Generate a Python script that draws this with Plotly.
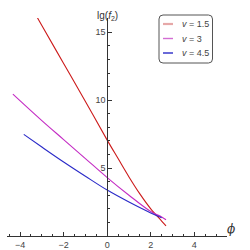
import plotly.graph_objects as go

# ---- data ----
nu_labels = ["v = 1.5", "v = 3", "v = 4.5"]
legend_text = ["<i>v</i> = 1.5", "<i>v</i> = 3", "<i>v</i> = 4.5"]

phi_red = [-3.5, -3.0, -2.0, -1.0, 0.0, 0.5, 1.0, 1.5, 2.0, 2.5, 2.7]
lg_red = [16.9, 15.5, 12.7, 9.9, 7.06, 5.7, 4.35, 3.1, 2.0, 1.1, 0.74]

phi_mag = [-4.33, -3.0, -2.0, -1.0, 0.0, 1.0, 2.0, 2.5, 2.7]
lg_mag = [10.45, 8.5, 7.1, 5.7, 4.3, 3.0, 1.8, 1.4, 1.2]

phi_blue = [-3.83, -3.0, -2.0, -1.0, 0.0, 1.0, 2.0, 2.5]
lg_blue = [7.48, 6.55, 5.45, 4.4, 3.38, 2.5, 1.7, 1.35]

x_ticks = [-4, -2, 0, 2, 4]
y_ticks = [5, 10, 15]

colors = ["#cc1a1a", "#c42cc4", "#2a2ac8"]
legend_colors = ["rgba(214,110,110,0.6)", "rgba(196,60,196,0.75)", "#2a2ac8"]
legend_widths = [2.2, 1.4, 1.4]

x_range = [-4.6, 5.5]
y_range = [0, 16.05]

fig = go.Figure()
for xs, ys, c, n in zip([phi_red, phi_mag, phi_blue], [lg_red, lg_mag, lg_blue], colors, nu_labels):
    fig.add_trace(go.Scatter(x=xs, y=ys, mode="lines", name=n,
                             line=dict(color=c, width=1.1, shape="spline"),
                             showlegend=False, hoverinfo="skip"))

y_pos = (0 - x_range[0]) / (x_range[1] - x_range[0])
axis_col = "#333333"
tick_font = dict(family="Liberation Sans, Arial, sans-serif", size=9, color="#444444")

fig.update_layout(
    width=250, height=250,
    margin=dict(l=7, r=23, t=18, b=14, autoexpand=False),
    paper_bgcolor="white", plot_bgcolor="white",
    showlegend=False,
    xaxis=dict(range=x_range, showgrid=False, zeroline=False, showline=True, automargin=False,
               linecolor=axis_col, linewidth=1, ticks="inside", ticklen=4,
               tickcolor=axis_col, tickvals=x_ticks, tickfont=tick_font,
               minor=dict(dtick=0.5, ticks="inside", ticklen=2, tickcolor=axis_col)),
    yaxis=dict(range=y_range, showgrid=False, zeroline=False, showline=True, automargin=False,
               linecolor=axis_col, linewidth=1, ticks="inside", ticklen=4,
               tickcolor=axis_col, tickvals=y_ticks, tickfont=tick_font,
               anchor="free", position=y_pos, side="left",
               minor=dict(dtick=1, ticks="inside", ticklen=2, tickcolor=axis_col)),
)

# axis labels
fig.add_annotation(text="lg(<i>f</i><sub>2</sub>)", xref="paper", yref="paper",
                   x=y_pos, y=1.045, showarrow=False,
                   font=dict(family="Liberation Sans, Arial, sans-serif", size=10, color="#333333"))
fig.add_annotation(text="<i>ϕ</i>", xref="paper", yref="paper",
                   x=1.045, y=-0.01, showarrow=False,
                   font=dict(family="DejaVu Serif, serif", size=12, color="#333333"))

# custom legend box (rounded)
def px2paper(px, py):
    return (px - 7) / 220.0, (236 - py) / 218.0

x0, y0 = px2paper(159, 15)
x1, y1 = px2paper(212.5, 63)
rx = 4 / 220.0
ry = 4 / 218.0
path = (f"M {x0+rx},{y0} L {x1-rx},{y0} Q {x1},{y0} {x1},{y0-ry} "
        f"L {x1},{y1+ry} Q {x1},{y1} {x1-rx},{y1} L {x0+rx},{y1} "
        f"Q {x0},{y1} {x0},{y1+ry} L {x0},{y0-ry} Q {x0},{y0} {x0+rx},{y0} Z")
fig.add_shape(type="path", path=path, xref="paper", yref="paper",
              line=dict(color="#555555", width=1), fillcolor="white")

rows_py = [24, 38.5, 53]
for py, c, w, t in zip(rows_py, legend_colors, legend_widths, legend_text):
    lx0, ly = px2paper(163, py)
    lx1, _ = px2paper(173, py)
    fig.add_shape(type="line", xref="paper", yref="paper", x0=lx0, x1=lx1, y0=ly, y1=ly,
                  line=dict(color=c, width=w))
    tx, _ = px2paper(180, py)
    fig.add_annotation(text=t, xref="paper", yref="paper", x=tx, y=ly, xanchor="left",
                       yanchor="middle", showarrow=False,
                       font=dict(family="Liberation Sans, Arial, sans-serif", size=9, color="#444444"))

fig.write_html("out.html", config={"displayModeBar": False},
               post_script="document.body.style.margin='0';document.body.style.overflow='hidden';")
